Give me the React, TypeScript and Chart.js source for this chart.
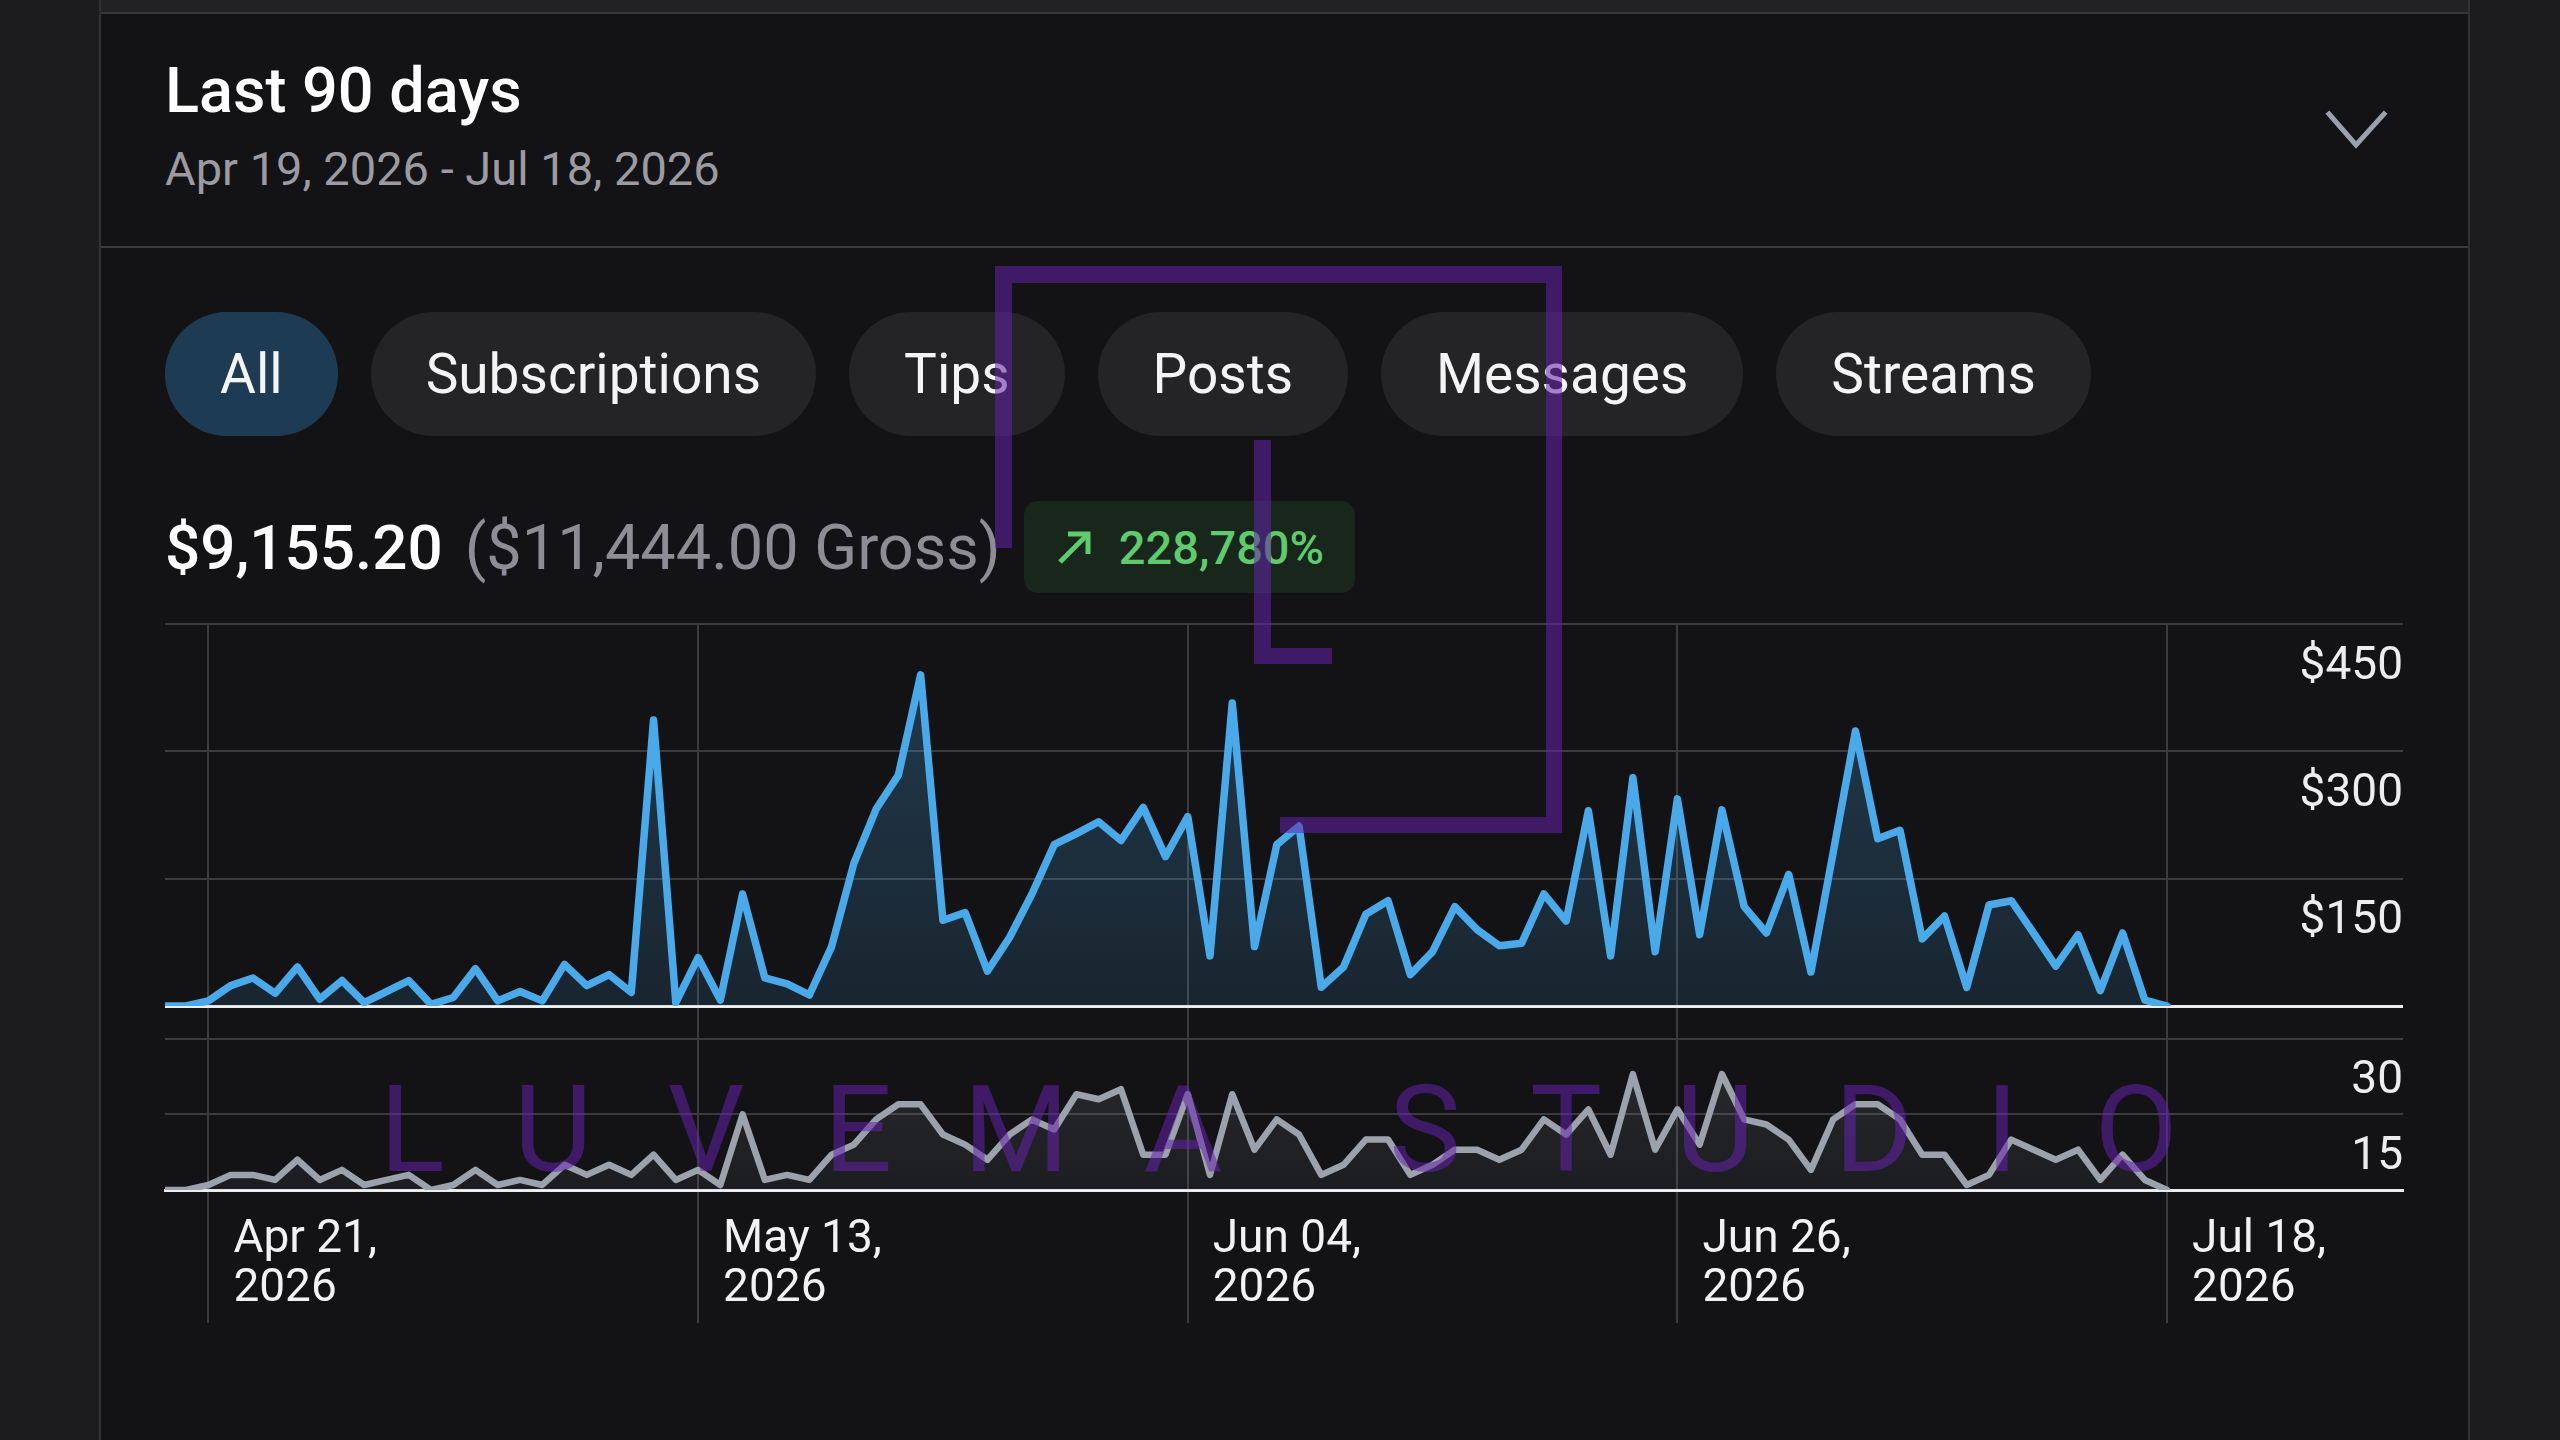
import React, { useEffect, useRef } from 'react';
import { Chart, registerables } from 'chart.js';

Chart.register(...registerables);

// Daily net earnings (USD), Apr 19 → Jul 18, 2026
const revenue = [
  0, 0, 6, 24, 33, 15, 46, 8, 30, 4, 17, 30, 2, 10, 44, 6, 17, 6, 49, 24, 37, 16, 337,
  4, 57, 7, 132, 33, 26, 13, 70, 168, 232, 272, 390, 101, 110, 41, 81, 132, 190, 203, 217, 195, 234, 176,
  223, 59, 357, 70, 190, 212, 22, 46, 108, 124, 37, 64, 117, 90, 71, 74, 132, 100, 230, 59, 269, 64,
  244, 84, 231, 117, 86, 155, 40, 181, 324, 197, 207, 79, 106, 22, 119, 124, 86, 47, 84, 18, 86, 7, 0,
];

// Daily transaction count
const transactions = [
  0, 0, 1, 3, 3, 2, 6, 2, 4, 1, 2, 3, 0, 1, 4, 1, 2, 1, 5, 3, 5, 3, 7,
  2, 4, 1, 15, 2, 3, 2, 7, 9, 14, 17, 17, 11, 9, 6, 11, 14, 12, 19, 18, 20, 7, 7,
  19, 3, 19, 8, 14, 11, 3, 5, 10, 10, 3, 5, 8, 8, 6, 8, 14, 11, 16, 7, 23, 8,
  16, 9, 23, 14, 13, 10, 4, 14, 17, 17, 14, 7, 7, 1, 3, 10, 8, 6, 8, 2, 7, 2, 0,
];

// Day offsets (from Apr 19) that carry a date label
const xTickDays = [2, 24, 46, 68, 90];
const xTickLabels = [
  ['Apr 21,', '2026'],
  ['May 13,', '2026'],
  ['Jun 04,', '2026'],
  ['Jun 26,', '2026'],
  ['Jul 18,', '2026'],
];
const xAxisStart = 0.05;
const xAxisEnd = 100.6;

const revenueTicks = [0, 150, 300, 450];
const countTicks = [0, 15, 30];
const countAxisMax = 36.5;

const filters = ['All', 'Subscriptions', 'Tips', 'Posts', 'Messages', 'Streams'];

const headerTitle = 'Last 90 days';
const headerRange = 'Apr 19, 2026 - Jul 18, 2026';
const netTotal = '$9,155.20';
const grossTotal = '($11,444.00 Gross)';
const growth = '228,780%';

const brandLetters: [string, number][] = [
  ['L', 412], ['U', 553], ['V', 706], ['E', 858], ['M', 1016], ['A', 1183],
  ['S', 1425], ['T', 1566], ['U', 1715], ['D', 1874], ['I', 2002], ['O', 2136],
];

const GRID = '#3b3b3e';
const BASE = '#ececec';
const FONT = 'Roboto, "Noto Sans", Arial, sans-serif';
const MARK = 'rgba(100, 34, 172, 0.55)';

export default function App() {
  const canvasRef = useRef<HTMLCanvasElement>(null);

  useEffect(() => {
    document.body.style.margin = '0';
    const canvas = canvasRef.current;
    if (!canvas) return;

    Chart.defaults.font.family = FONT;

    const zeroLine = (c: any) => (c.tick && c.tick.value === 0 ? BASE : GRID);
    const zeroWidth = (c: any) => (c.tick && c.tick.value === 0 ? 3 : 2);

    const chart = new Chart(canvas, {
      type: 'line',
      data: {
        datasets: [
          {
            data: revenue.map((v, i) => ({ x: i, y: v })),
            yAxisID: 'yRev',
            borderColor: '#4aa9e9',
            borderWidth: 7.5,
            borderJoinStyle: 'round',
            borderCapStyle: 'round',
            pointRadius: 0,
            tension: 0,
            fill: 'origin',
            backgroundColor: (c: any) => {
              const ch = c.chart;
              const s = ch.scales && ch.scales.yRev;
              if (!ch.chartArea || !s) return 'rgba(74,169,233,0.17)';
              const g = ch.ctx.createLinearGradient(0, s.top, 0, s.bottom);
              g.addColorStop(0, 'rgba(74,169,233,0.28)');
              g.addColorStop(1, 'rgba(74,169,233,0.12)');
              return g;
            },
          },
          {
            data: transactions.map((v, i) => ({ x: i, y: v })),
            yAxisID: 'yCnt',
            borderColor: '#9ca2ab',
            borderWidth: 6.5,
            borderJoinStyle: 'round',
            borderCapStyle: 'round',
            pointRadius: 0,
            tension: 0,
            fill: 'origin',
            backgroundColor: (c: any) => {
              const ch = c.chart;
              const s = ch.scales && ch.scales.yCnt;
              if (!ch.chartArea || !s) return 'rgba(156,162,171,0.12)';
              const g = ch.ctx.createLinearGradient(0, s.top, 0, s.bottom);
              g.addColorStop(0, 'rgba(156,162,171,0.20)');
              g.addColorStop(1, 'rgba(156,162,171,0.07)');
              return g;
            },
          },
        ],
      },
      options: {
        animation: false,
        responsive: true,
        maintainAspectRatio: false,
        layout: { padding: { top: 10, left: 10, right: 10, bottom: 10 } },
        plugins: { legend: { display: false }, tooltip: { enabled: false } },
        scales: {
          x: {
            type: 'linear',
            min: xAxisStart,
            max: xAxisEnd,
            afterBuildTicks: (s: any) => {
              s.ticks = xTickDays.map((v) => ({ value: v }));
            },
            afterFit: (s: any) => {
              s.height = 140;
              s.paddingLeft = 0;
              s.paddingRight = 0;
            },
            grid: { color: GRID, lineWidth: 2, tickLength: 133, drawTicks: true },
            border: { display: true, color: BASE, width: 3 },
            ticks: {
              autoSkip: false,
              maxRotation: 0,
              minRotation: 0,
              align: 'start',
              labelOffset: 25,
              padding: -106.5,
              color: '#f2f2f2',
              font: { size: 46, lineHeight: 1.065 },
              callback: (v: any) => {
                const i = xTickDays.indexOf(Number(v));
                return i >= 0 ? xTickLabels[i] : '';
              },
            },
          },
          yRev: {
            type: 'linear',
            position: 'right',
            stack: 'panels',
            stackWeight: 382,
            min: 0,
            max: revenueTicks[revenueTicks.length - 1],
            afterBuildTicks: (s: any) => {
              s.ticks = revenueTicks.map((v) => ({ value: v }));
            },
            afterFit: (s: any) => {
              s.width = 0;
              s.paddingTop = 0;
              s.paddingBottom = 0;
            },
            grid: { color: zeroLine, lineWidth: zeroWidth, drawTicks: false },
            border: { display: false },
            ticks: {
              autoSkip: false,
              mirror: true,
              padding: 0,
              labelOffset: 43,
              color: '#ededed',
              font: { size: 46 },
              callback: (v: any) => (Number(v) === 0 ? '' : '$' + v),
            },
          },
          yCnt: {
            type: 'linear',
            position: 'right',
            stack: 'panels',
            stackWeight: 184,
            min: 0,
            max: countAxisMax,
            afterBuildTicks: (s: any) => {
              s.ticks = countTicks.map((v) => ({ value: v }));
            },
            afterFit: (s: any) => {
              s.width = 0;
              s.paddingTop = 0;
              s.paddingBottom = 0;
            },
            grid: { color: zeroLine, lineWidth: zeroWidth, drawTicks: false },
            border: { display: false },
            ticks: {
              autoSkip: false,
              mirror: true,
              padding: 0,
              labelOffset: 43,
              color: '#ededed',
              font: { size: 46 },
              callback: (v: any) => (Number(v) === 0 ? '' : String(v)),
            },
          },
        },
      } as any,
    });

    return () => chart.destroy();
  }, []);

  const abs = (s: React.CSSProperties): React.CSSProperties => ({ position: 'absolute', ...s });

  return (
    <div
      style={{
        position: 'fixed',
        left: 0,
        top: 0,
        width: 2560,
        height: 1440,
        background: '#1c1c1e',
        overflow: 'hidden',
        fontFamily: FONT,
      }}
    >
      {/* card */}
      <div style={abs({ left: 99, top: 0, width: 2371, height: 1440, background: '#131316', borderLeft: '2px solid #313134', borderRight: '2px solid #313134', boxSizing: 'border-box' })} />
      <div style={abs({ left: 101, top: 0, width: 2367, height: 12, background: '#222225', borderBottom: '2px solid #38383b' })} />
      <div style={abs({ left: 101, top: 246, width: 2367, height: 2, background: '#3a3a3d' })} />

      {/* header */}
      <div style={abs({ left: 165, top: 59, fontSize: 63, lineHeight: 1, fontWeight: 500, color: '#ffffff', whiteSpace: 'nowrap' })}>
        {headerTitle}
      </div>
      <div style={abs({ left: 165, top: 145, fontSize: 47, lineHeight: 1, color: '#9b9ba1', whiteSpace: 'nowrap' })}>
        {headerRange}
      </div>
      <svg style={abs({ left: 2320, top: 105, width: 75, height: 50 })} viewBox="0 0 75 50">
        <polyline points="9,9 36,40 64,9" fill="none" stroke="#9ba1ab" strokeWidth={5} strokeLinecap="square" />
      </svg>

      {/* filter chips */}
      <div style={abs({ left: 165, top: 312, height: 124, display: 'flex', gap: 33 })}>
        {filters.map((f, i) => (
          <div
            key={f}
            style={{
              height: 124,
              borderRadius: 62,
              padding: '0 55px',
              display: 'flex',
              alignItems: 'center',
              fontSize: 55,
              color: '#f4f4f4',
              background: i === 0 ? '#1d3c54' : '#242427',
              whiteSpace: 'nowrap',
            }}
          >
            {f}
          </div>
        ))}
      </div>

      {/* totals */}
      <div style={abs({ left: 165, top: 501, height: 92, display: 'flex', alignItems: 'center', whiteSpace: 'nowrap' })}>
        <span style={{ fontSize: 62, fontWeight: 500, color: '#ffffff' }}>{netTotal}</span>
        <span style={{ fontSize: 63, color: '#8d8d93', marginLeft: 22 }}>{grossTotal}</span>
        <div
          style={{
            marginLeft: 23,
            height: 92,
            padding: '0 31px',
            borderRadius: 14,
            background: '#18261c',
            display: 'flex',
            alignItems: 'center',
          }}
        >
          <svg width={40} height={40} viewBox="0 0 40 40">
            <line x1={5} y1={35} x2={33} y2={7} stroke="#5fcb6c" strokeWidth={5} />
            <polyline points="13,7 33,7 33,27" fill="none" stroke="#5fcb6c" strokeWidth={5} />
          </svg>
          <span style={{ fontSize: 47, fontWeight: 500, color: '#5fcb6c', marginLeft: 24 }}>{growth}</span>
        </div>
      </div>

      {/* chart */}
      <div style={abs({ left: 155, top: 614, width: 2258, height: 726 })}>
        <canvas ref={canvasRef} />
      </div>

      {/* studio mark */}
      <div style={abs({ left: 995, top: 266, width: 567, height: 17, background: MARK })} />
      <div style={abs({ left: 995, top: 283, width: 17, height: 265, background: MARK })} />
      <div style={abs({ left: 1546, top: 283, width: 16, height: 534, background: MARK })} />
      <div style={abs({ left: 1280, top: 817, width: 282, height: 16, background: MARK })} />
      <div style={abs({ left: 1254, top: 440, width: 17, height: 208, background: MARK })} />
      <div style={abs({ left: 1254, top: 648, width: 78, height: 16, background: MARK })} />
      {brandLetters.map(([ch, x], i) => (
        <div
          key={i}
          style={abs({
            left: x,
            top: 1070,
            transform: 'translateX(-50%)',
            fontSize: 121,
            lineHeight: 1,
            fontWeight: 400,
            color: MARK,
            pointerEvents: 'none',
          })}
        >
          {ch}
        </div>
      ))}
    </div>
  );
}
